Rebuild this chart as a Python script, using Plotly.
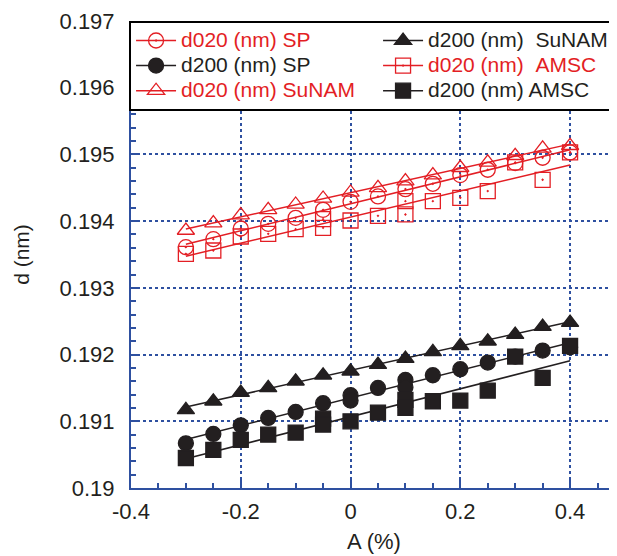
import numpy as np
import plotly.graph_objects as go

# ---------------- data ----------------
x_std = [-0.3, -0.25, -0.2, -0.15, -0.1, -0.05, 0.0, 0.05, 0.1, 0.15, 0.2, 0.25, 0.3, 0.35, 0.4]

# d020 (nm) SP  (red open circles)
sp_d020_x = x_std
sp_d020_y = [0.19361, 0.19373, 0.19389, 0.19396, 0.19405, 0.19417, 0.19429, 0.19437, 0.19448,
             0.19456, 0.19469, 0.19477, 0.19487, 0.19495, 0.19503]

# d200 (nm) SP  (black filled circles)
sp_d200_x = x_std + [0.0, 0.1]
sp_d200_y = [0.19067, 0.19081, 0.19094, 0.19105, 0.19114, 0.19127, 0.19139, 0.19150, 0.19162,
             0.19169, 0.19178, 0.19188, 0.19197, 0.19206, 0.19211, 0.19131, 0.19151]

# d020 (nm) SuNAM  (red open triangles)
su_d020_x = x_std
su_d020_y = [0.19386, 0.19397, 0.19409, 0.19417, 0.19425, 0.19434, 0.19443, 0.19450, 0.19460,
             0.19469, 0.19480, 0.19488, 0.19498, 0.19509, 0.19513]

# d200 (nm) SuNAM  (black filled triangles)
su_d200_x = x_std
su_d200_y = [0.19117, 0.19130, 0.19143, 0.19150, 0.19160, 0.19169, 0.19175, 0.19185, 0.19194,
             0.19204, 0.19213, 0.19220, 0.19230, 0.19242, 0.19248]

# d020 (nm) AMSC  (red open squares)
am_d020_x = x_std + [-0.05, 0.1]
am_d020_y = [0.19351, 0.19356, 0.19377, 0.19381, 0.19388, 0.19403, 0.19401, 0.19408, 0.19430,
             0.19430, 0.19435, 0.19445, 0.19488, 0.19462, 0.19503, 0.19390, 0.19410]

# d200 (nm) AMSC  (black filled squares)
am_d200_x = x_std + [-0.05, 0.1]
am_d200_y = [0.19045, 0.19057, 0.19072, 0.19080, 0.19083, 0.19104, 0.19100, 0.19113, 0.19132,
             0.19130, 0.19131, 0.19146, 0.19197, 0.19165, 0.19213, 0.19095, 0.19120]

x_tick_vals = [-0.4, -0.2, 0, 0.2, 0.4]
x_tick_text = ["-0.4", "-0.2", "0", "0.2", "0.4"]
y_tick_vals = [0.19, 0.191, 0.192, 0.193, 0.194, 0.195, 0.196, 0.197]
y_tick_text = ["0.19", "0.191", "0.192", "0.193", "0.194", "0.195", "0.196", "0.197"]

# ---------------- style ----------------
RED = "#e31e24"
BLK = "#231f20"
BLUE = "#2e50a0"
FONT = "Liberation Sans, Arial, sans-serif"

series = [
    # name, x, y, color, symbol, legendrank
    ("d020 (nm) SP", sp_d020_x, sp_d020_y, RED, "circle-open-dot", 1),
    ("d200 (nm) SP", sp_d200_x, sp_d200_y, BLK, "circle", 3),
    ("d020 (nm) SuNAM", su_d020_x, su_d020_y, RED, "triangle-up-open", 5),
    ("d200 (nm)\u00a0\u00a0SuNAM", su_d200_x, su_d200_y, BLK, "triangle-up", 2),
    ("d020 (nm)\u00a0\u00a0AMSC", am_d020_x, am_d020_y, RED, "square-open-dot", 4),
    ("d200 (nm) AMSC", am_d200_x, am_d200_y, BLK, "square", 6),
]

fig = go.Figure()
for name, xs, ys, col, sym, rank in series:
    mk = dict(color=col, symbol=sym, size=15, line=dict(color=col, width=1.3))
    # fitted line from the data
    xa = np.array(xs, dtype=float)
    ya = np.array(ys, dtype=float)
    k, b = np.polyfit(xa, ya, 1)
    xf = np.array([xa.min(), xa.max()])
    fig.add_trace(go.Scatter(x=xf, y=k * xf + b, mode="lines",
                             line=dict(color=col, width=1.5), showlegend=False, hoverinfo="skip"))
    fig.add_trace(go.Scatter(x=xs, y=ys, mode="markers", marker=mk, showlegend=False))
    # legend entry
    fig.add_trace(go.Scatter(x=[None], y=[None], mode="lines+markers",
                             marker=mk, line=dict(color=col, width=1.5),
                             name=f"<span style='color:{col};font-size:21px'>{name}</span>",
                             legendrank=rank, showlegend=True))

axis_common = dict(
    showline=True, linecolor=BLUE, linewidth=2, mirror=False,
    showgrid=True, gridcolor=BLUE, gridwidth=2, griddash="dot",
    ticks="inside", ticklen=8, tickwidth=1.5, tickcolor=BLUE,
    zeroline=False,
    tickfont=dict(family=FONT, size=22, color=BLK),
)

fig.update_xaxes(
    **axis_common,
    range=[-0.4, 0.4855],
    tickvals=x_tick_vals, ticktext=x_tick_text,
    minor=dict(dtick=0.05, tick0=0, ticks="inside", ticklen=5, tickcolor=BLUE, tickwidth=1.5, showgrid=False),
    ticklabelstandoff=3,
    title=dict(text="A (%)", font=dict(family=FONT, size=22, color=BLK), standoff=10),
)
fig.update_yaxes(
    **axis_common,
    range=[0.19, 0.197],
    tickvals=y_tick_vals, ticktext=y_tick_text,
    minor=dict(dtick=0.0002, tick0=0.19, ticks="inside", ticklen=5, tickcolor=BLUE, tickwidth=1.5, showgrid=False),
    ticklabelstandoff=10,
    title=dict(text="d (nm)", font=dict(family=FONT, size=21, color=BLK), standoff=24),
)

# page body has an 8px margin: figure sits at (8, 8) in the window
fig.update_layout(
    width=609, height=548,
    margin=dict(l=123, r=0, t=13, b=68, autoexpand=False),
    paper_bgcolor="white", plot_bgcolor="white",
    showlegend=True,
    legend=dict(
        orientation="h",
        x=-0.004, y=1.0001, xanchor="left", yanchor="top",
        bgcolor="white", bordercolor="black", borderwidth=2,
        font=dict(family=FONT, size=17, color=BLK),
        entrywidth=192, entrywidthmode="pixels",
        itemwidth=40,
        traceorder="normal",
    ),
)

fig.write_html("out.html")
